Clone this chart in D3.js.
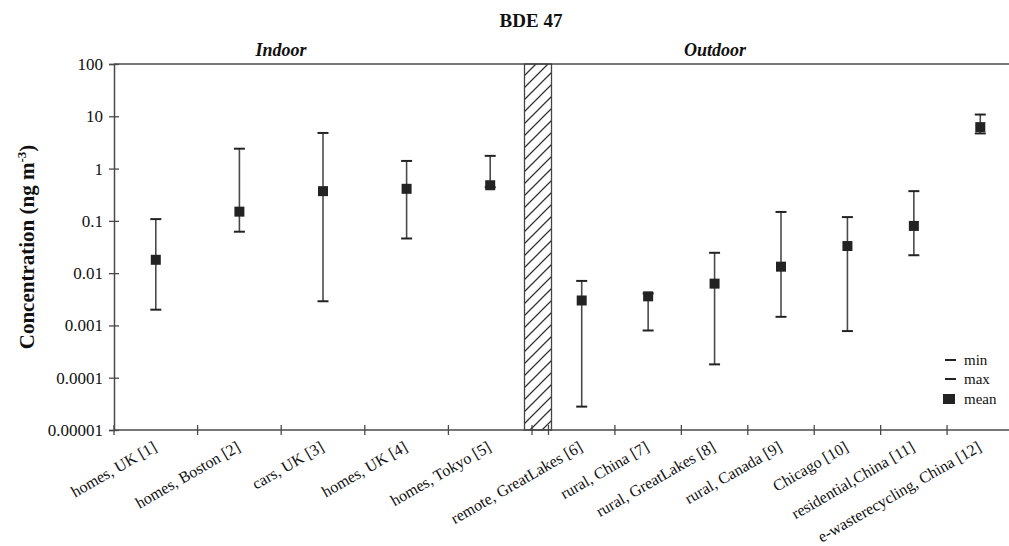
<!DOCTYPE html>
<html>
<head>
<meta charset="utf-8">
<script src="https://cdn.jsdelivr.net/npm/d3@7/dist/d3.min.js"></script>
<style>
  html, body { margin: 0; padding: 0; background: #fff; }
  svg { display: block; font-family: "Liberation Serif", "Times New Roman", serif; }
</style>
</head>
<body>
<svg id="chart" width="1009" height="546"></svg>
<script>
// ---- data ----
const indoorCategories = ["homes, UK [1]", "homes, Boston [2]", "cars, UK [3]", "homes, UK [4]", "homes, Tokyo [5]"];
const indoorMin  = [0.002, 0.062, 0.0029, 0.046, 0.44];
const indoorMax  = [0.108, 2.4, 4.8, 1.4, 1.75];
const indoorMean = [0.018, 0.15, 0.37, 0.41, 0.48];

const outdoorCategories = ["remote, GreatLakes [6]", "rural, China [7]", "rural, GreatLakes [8]", "rural, Canada [9]", "Chicago [10]", "residential,China [11]", "e-wasterecycling, China [12]"];
const outdoorMin  = [0.000028, 0.0008, 0.00018, 0.00146, 0.00078, 0.022, 4.7];
const outdoorMax  = [0.0071, 0.0041, 0.0245, 0.148, 0.118, 0.37, 10.8];
const outdoorMean = [0.0030, 0.0036, 0.0063, 0.0133, 0.033, 0.08, 6.2];

const yTickValues = [0.00001, 0.0001, 0.001, 0.01, 0.1, 1, 10, 100];
const yTickLabels = ["0.00001", "0.0001", "0.001", "0.01", "0.1", "1", "10", "100"];
const legendItems = ["min", "max", "mean"];

// ---- layout ----
const svg = d3.select("#chart");
const plotTop = 64, plotBottom = 430;
const y = d3.scaleLog().domain([1e-5, 100]).range([plotBottom, plotTop]);
const xIn = d3.scaleBand().domain(indoorCategories).range([114, 532]);
const xOut = d3.scaleBand().domain(outdoorCategories).range([548.5, 1013.5]);

const lineCol = "#4a4a4a";
const markCol = "#232323";

// hatch pattern
const defs = svg.append("defs");
const pat = defs.append("pattern").attr("id", "hatch").attr("patternUnits", "userSpaceOnUse")
  .attr("width", 12).attr("height", 12);
pat.append("path").attr("d", "M-3,3 L3,-3 M0,12 L12,0 M9,15 L15,9")
  .attr("stroke", "#333").attr("stroke-width", 1.3);

// top border line
svg.append("line").attr("x1", 114).attr("x2", 1009).attr("y1", plotTop).attr("y2", plotTop)
  .attr("stroke", lineCol).attr("stroke-width", 1.5);
// bottom axis line
svg.append("line").attr("x1", 114).attr("x2", 1009).attr("y1", plotBottom).attr("y2", plotBottom)
  .attr("stroke", lineCol).attr("stroke-width", 1.5);

// y axis
const yAxis = svg.append("g").attr("transform", "translate(114,0)")
  .call(d3.axisLeft(y).tickValues(yTickValues).tickFormat((d, i) => yTickLabels[i]).tickSize(5).tickPadding(6));
yAxis.select(".domain").attr("stroke", lineCol).attr("stroke-width", 1.5);
yAxis.selectAll(".tick line").attr("x1", 5).attr("stroke", lineCol).attr("stroke-width", 1.3);
yAxis.selectAll(".tick text").attr("font-size", 17).attr("fill", "#111")
  .attr("font-family", "Liberation Serif, serif");

// boundary ticks on x
function boundaryTicks(scale) {
  const dom = scale.domain();
  const bs = dom.map(d => scale(d)).concat([scale(dom[dom.length - 1]) + scale.bandwidth()]);
  svg.append("g").selectAll("line").data(bs).join("line")
    .attr("x1", d => d).attr("x2", d => d).attr("y1", plotBottom - 5).attr("y2", plotBottom + 5)
    .attr("stroke", lineCol).attr("stroke-width", 1.3);
}
boundaryTicks(xIn);
boundaryTicks(xOut);

// hatched separator
svg.append("rect").attr("x", 524.5).attr("y", plotTop).attr("width", 27).attr("height", plotBottom - plotTop)
  .attr("fill", "url(#hatch)").attr("stroke", "#444").attr("stroke-width", 1.3);

// x labels
function labels(scale) {
  svg.append("g").selectAll("text").data(scale.domain()).join("text")
    .attr("transform", d => `translate(${scale(d) + scale.bandwidth() / 2 + 2},${plotBottom + 20}) rotate(-30)`)
    .attr("text-anchor", "end").attr("font-size", 16).attr("fill", "#111")
    .text(d => d);
}
labels(xIn);
labels(xOut);

// error bars
function errorBars(scale, cats, mins, maxs, means) {
  const g = svg.append("g");
  const data = cats.map((c, i) => ({ c, min: mins[i], max: maxs[i], mean: means[i] }));
  const cx = d => scale(d.c) + scale.bandwidth() / 2;
  g.selectAll("line.v").data(data).join("line").attr("class", "v")
    .attr("x1", cx).attr("x2", cx).attr("y1", d => y(d.min)).attr("y2", d => y(d.max))
    .attr("stroke", lineCol).attr("stroke-width", 1.6);
  g.selectAll("line.mn").data(data).join("line").attr("class", "mn")
    .attr("x1", d => cx(d) - 5.5).attr("x2", d => cx(d) + 5.5).attr("y1", d => y(d.min)).attr("y2", d => y(d.min))
    .attr("stroke", markCol).attr("stroke-width", 2);
  g.selectAll("line.mx").data(data).join("line").attr("class", "mx")
    .attr("x1", d => cx(d) - 5.5).attr("x2", d => cx(d) + 5.5).attr("y1", d => y(d.max)).attr("y2", d => y(d.max))
    .attr("stroke", markCol).attr("stroke-width", 2);
  g.selectAll("rect").data(data).join("rect")
    .attr("x", d => cx(d) - 5).attr("y", d => y(d.mean) - 5).attr("width", 10).attr("height", 10)
    .attr("fill", markCol);
}
errorBars(xIn, indoorCategories, indoorMin, indoorMax, indoorMean);
errorBars(xOut, outdoorCategories, outdoorMin, outdoorMax, outdoorMean);

// titles
svg.append("text").attr("x", 531).attr("y", 27).attr("text-anchor", "middle")
  .attr("font-size", 19).attr("font-weight", "bold").attr("fill", "#111").text("BDE 47");
svg.append("text").attr("x", 281).attr("y", 56).attr("text-anchor", "middle")
  .attr("font-size", 18).attr("font-weight", "bold").attr("font-style", "italic").attr("fill", "#111").text("Indoor");
svg.append("text").attr("x", 715).attr("y", 56).attr("text-anchor", "middle")
  .attr("font-size", 18).attr("font-weight", "bold").attr("font-style", "italic").attr("fill", "#111").text("Outdoor");

// y label
const yl = svg.append("text").attr("transform", "translate(34,247) rotate(-90)").attr("text-anchor", "middle")
  .attr("font-size", 21).attr("font-weight", "bold").attr("fill", "#111");
yl.append("tspan").text("Concentration (ng m");
yl.append("tspan").attr("font-size", 13).attr("dy", -8).text("-3");
yl.append("tspan").attr("dy", 8).text(")");

// legend
const lg = svg.append("g");
const ly = [360, 379, 399];
legendItems.forEach((t, i) => {
  if (i < 2) {
    lg.append("line").attr("x1", 945).attr("x2", 956).attr("y1", ly[i]).attr("y2", ly[i])
      .attr("stroke", markCol).attr("stroke-width", 2);
  } else {
    lg.append("rect").attr("x", 943).attr("y", ly[i] - 5).attr("width", 12).attr("height", 10).attr("fill", markCol);
  }
  lg.append("text").attr("x", 964).attr("y", ly[i] + 5).attr("font-size", 15).attr("fill", "#111").text(t);
});
</script>
</body>
</html>
